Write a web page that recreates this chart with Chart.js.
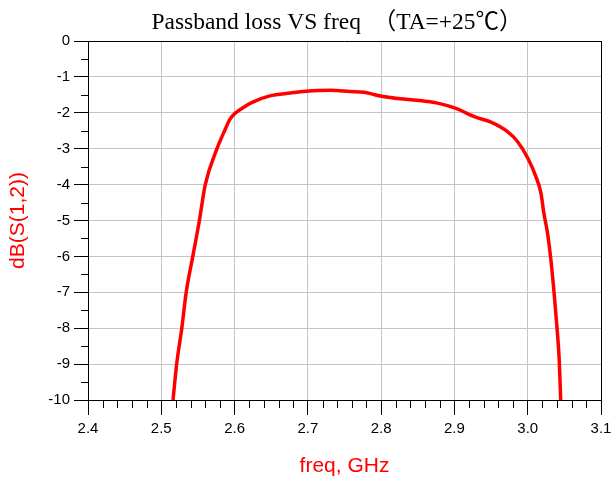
<!DOCTYPE html>
<html>
<head>
<meta charset="utf-8">
<title>Passband loss VS freq</title>
<script src="https://cdn.jsdelivr.net/npm/chart.js@4/dist/chart.umd.min.js"></script>
<style>
  html, body { margin: 0; padding: 0; background: #fff; }
  #wrap { width: 611px; height: 477px; position: relative; }
</style>
</head>
<body>
<div id="wrap"><canvas id="lossChart"></canvas></div>
<script>
// S21 passband sweep, freq in GHz and insertion loss in dB
const freqGHz = [
  2.516, 2.521, 2.528, 2.534, 2.543, 2.552, 2.560, 2.576, 2.587, 2.594,
  2.6016, 2.612, 2.624, 2.648, 2.676, 2.7015, 2.731, 2.758, 2.776, 2.801,
  2.826, 2.849, 2.877, 2.901, 2.929, 2.950, 2.972, 2.986, 3.000, 3.011,
  3.018, 3.022, 3.027, 3.0316, 3.036, 3.0398, 3.043, 3.045
];
const lossDB = [
  -10, -9, -8, -7, -6, -5, -4, -3, -2.47, -2.17,
  -2.0, -1.85, -1.71, -1.53, -1.45, -1.39, -1.375, -1.41, -1.43, -1.54,
  -1.61, -1.65, -1.73, -1.87, -2.12, -2.26, -2.52, -2.80, -3.26, -3.77,
  -4.23, -4.79, -5.35, -6.09, -7.02, -7.95, -8.88, -10
];

const xTickValues = [2.4, 2.5, 2.6, 2.7, 2.8, 2.9, 3.0, 3.1];
const yTickValues = [0, -1, -2, -3, -4, -5, -6, -7, -8, -9, -10];
const xMinorStep = 0.02;
const yMinorStep = 0.5;

const titleText = 'Passband loss VS freq  （TA=+25℃）';

const points = freqGHz.map((f, i) => ({ x: f, y: lossDB[i] }));

// minor ticks, black frame on top/right, and the serif heading
const framePlugin = {
  id: 'frame',
  afterDraw(chart) {
    const { ctx, chartArea: a, scales: { x, y } } = chart;
    ctx.save();
    ctx.strokeStyle = '#000';
    ctx.lineWidth = 1;

    ctx.beginPath();
    const nx = Math.round((x.max - x.min) / xMinorStep);
    for (let i = 0; i <= nx; i++) {
      if (i % 5 === 0) continue;
      const px = Math.round(x.getPixelForValue(x.min + i * xMinorStep)) + 0.5;
      ctx.moveTo(px, a.bottom);
      ctx.lineTo(px, a.bottom + 8);
    }
    const ny = Math.round((y.max - y.min) / yMinorStep);
    for (let i = 0; i <= ny; i++) {
      if (i % 2 === 0) continue;
      const py = Math.round(y.getPixelForValue(y.min + i * yMinorStep)) + 0.5;
      ctx.moveTo(a.left - 7, py);
      ctx.lineTo(a.left, py);
    }
    // top and right edges of the plot box
    ctx.moveTo(a.left, Math.round(a.top) + 0.5);
    ctx.lineTo(a.right, Math.round(a.top) + 0.5);
    ctx.moveTo(Math.round(a.right) + 0.5, a.top);
    ctx.lineTo(Math.round(a.right) + 0.5, a.bottom);
    ctx.stroke();

    ctx.fillStyle = '#000';
    ctx.font = "23.5px 'Liberation Serif', 'Noto Sans CJK SC', serif";
    ctx.textAlign = 'center';
    ctx.textBaseline = 'alphabetic';
    ctx.fillText(titleText, 337, 29);
    ctx.restore();
  }
};

new Chart(document.getElementById('lossChart'), {
  type: 'line',
  plugins: [framePlugin],
  data: {
    datasets: [{
      data: points,
      borderColor: '#ff0000',
      borderWidth: 3.5,
      pointRadius: 0,
      fill: false,
      cubicInterpolationMode: 'monotone'
    }]
  },
  options: {
    responsive: true,
    maintainAspectRatio: false,
    animation: false,
    layout: { padding: { top: 41, right: 10, left: 0, bottom: 0 } },
    plugins: {
      legend: { display: false },
      title: { display: false },
      tooltip: { enabled: false }
    },
    scales: {
      x: {
        type: 'linear',
        min: 2.4,
        max: 3.1,
        afterFit(scale) {
          scale.height = 77;
          scale.paddingLeft = 0;
          scale.paddingRight = 0;
        },
        afterBuildTicks(scale) { scale.ticks = xTickValues.map(v => ({ value: v })); },
        border: { display: true, color: '#000', width: 1 },
        grid: { color: '#c4c4c4', lineWidth: 1, tickColor: '#000', tickLength: 15 },
        ticks: {
          color: '#000',
          padding: 5,
          maxRotation: 0,
          autoSkip: false,
          font: { family: "'Liberation Sans', Arial, sans-serif", size: 15 },
          callback: v => Number(v).toFixed(1)
        },
        title: {
          display: true,
          text: 'freq, GHz',
          color: '#ff0000',
          padding: { top: 0, bottom: -2 },
          font: { family: "'Liberation Sans', Arial, sans-serif", size: 21 }
        }
      },
      y: {
        type: 'linear',
        min: -10,
        max: 0,
        afterFit(scale) { scale.width = 88; },
        afterBuildTicks(scale) { scale.ticks = yTickValues.map(v => ({ value: v })); },
        border: { display: true, color: '#000', width: 1 },
        grid: { color: '#c4c4c4', lineWidth: 1, tickColor: '#000', tickLength: 14 },
        ticks: {
          color: '#000',
          padding: 4,
          autoSkip: false,
          font: { family: "'Liberation Sans', Arial, sans-serif", size: 15 },
          callback: v => String(v)
        },
        title: {
          display: true,
          text: 'dB(S(1,2))',
          color: '#ff0000',
          padding: { top: 6, bottom: 0 },
          font: { family: "'Liberation Sans', Arial, sans-serif", size: 21 }
        }
      }
    }
  }
});
</script>
</body>
</html>
